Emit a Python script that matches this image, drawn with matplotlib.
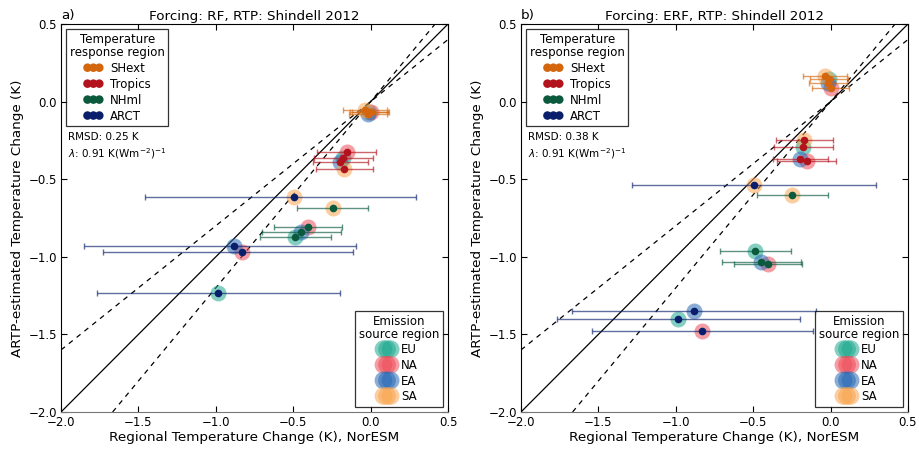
import numpy as np
import matplotlib
matplotlib.use('Agg')
import matplotlib.pyplot as plt

# ---------------- data ----------------
sources = ['EU', 'NA', 'EA', 'SA']
regions = ['SHext', 'Tropics', 'NHml', 'ARCT']

# NorESM regional temperature change (x), rows = regions, cols = sources
x_noresm = [[-0.010, 0.000, -0.015, -0.035],
            [-0.180, -0.154, -0.196, -0.170],
            [-0.488, -0.402, -0.448, -0.246],
            [-0.984, -0.829, -0.883, -0.497]]
# lower / upper ends of horizontal error bars (panel a: RF, panel b: ERF)
x_low_rf = [[-0.133, -0.120, -0.137, -0.176],
            [-0.366, -0.348, -0.370, -0.353],
            [-0.716, -0.623, -0.702, -0.473],
            [-1.770, -1.730, -1.850, -1.457]]
x_low_erf = [[-0.133, -0.120, -0.137, -0.176],
             [-0.366, -0.348, -0.370, -0.353],
             [-0.716, -0.623, -0.702, -0.473],
             [-1.770, -1.543, -1.672, -1.285]]
x_high = [[0.114, 0.121, 0.104, 0.104],
          [0.015, 0.037, -0.015, 0.015],
          [-0.258, -0.182, -0.192, -0.017],
          [-0.196, -0.116, -0.095, 0.295]]

# ARTP-estimated temperature change (y)
y_rf = [[-0.065, -0.070, -0.080, -0.055],
        [-0.366, -0.327, -0.391, -0.434],
        [-0.874, -0.806, -0.838, -0.688],
        [-1.231, -0.967, -0.928, -0.613]]
y_erf = [[0.144, 0.090, 0.122, 0.168],
         [-0.290, -0.381, -0.372, -0.247],
         [-0.963, -1.046, -1.031, -0.604],
         [-1.401, -1.480, -1.347, -0.537]]

titles = ['Forcing: RF, RTP: Shindell 2012', 'Forcing: ERF, RTP: Shindell 2012']
panel_labels = ['a)', 'b)']
rmsd = ['0.25', '0.38']
lam = ['0.91', '0.91']

region_colors = ['#d4670e', '#b3131c', '#0b5a3e', '#0a1f6c']
source_colors = ['#1fa98f', '#ee4d5a', '#2a6ab5', '#f9a550']

ticks = [-2.0, -1.5, -1.0, -0.5, 0.0, 0.5]

# ---------------- figure ----------------
fig = plt.figure(figsize=(9.19, 4.49), dpi=100)
ax_pos = [[0.0664, 0.0824, 0.4211, 0.8641],
          [0.5669, 0.0824, 0.4211, 0.8641]]

for p, (ydata, xlow) in enumerate([(y_rf, x_low_rf), (y_erf, x_low_erf)]):
    ax = fig.add_axes(ax_pos[p])
    ax.set_xlim(-2.0, 0.5)
    ax.set_ylim(-2.0, 0.5)

    # reference lines
    ax.axline((0, 0), slope=1.0, color='k', lw=0.9, zorder=1)
    ax.axline((0, 0), slope=0.8, color='k', lw=0.9, ls=(0, (4, 4)), zorder=1)
    ax.axline((0, 0), slope=1.2, color='k', lw=0.9, ls=(0, (4, 4)), zorder=1)

    for r in range(4):
        for s in range(4):
            ax.plot([x_noresm[r][s]], [ydata[r][s]], 'o', ms=11.5, mfc=source_colors[s],
                    mec='none', alpha=0.55, zorder=2)
    for r in range(4):
        for s in range(4):
            xv = x_noresm[r][s]
            yv = ydata[r][s]
            xerr = [[xv - xlow[r][s]], [x_high[r][s] - xv]]
            ax.errorbar([xv], [yv], xerr=xerr, fmt='none', ecolor=region_colors[r],
                        elinewidth=1.0, capsize=2.5, capthick=1.0, alpha=0.65, zorder=3)
    for r in range(4):
        for s in range(4):
            ax.plot([x_noresm[r][s]], [ydata[r][s]], 'o', ms=5.5,
                    mfc=region_colors[r], mec='none', zorder=4)

    ax.set_xticks(ticks)
    ax.set_yticks(ticks)
    ax.tick_params(direction='in', top=True, right=True, length=4, width=0.8,
                   labelsize=8.5, pad=3)
    ax.spines['bottom'].set_color('#777777')
    for sp in ['left', 'right', 'top']:
        ax.spines[sp].set_color('black')
    ax.set_xlabel('Regional Temperature Change (K), NorESM', fontsize=9.7, labelpad=1)
    ax.set_ylabel('ARTP-estimated Temperature Change (K)', fontsize=9.7, labelpad=3)
    ax.set_title(titles[p], fontsize=9.7, pad=3)
    ax.text(0.0, 1.006, panel_labels[p], transform=ax.transAxes, fontsize=9.7,
            ha='left', va='bottom')

    # legend 1: temperature response region
    h1 = [ax.scatter([], [], s=38, c=region_colors[r], edgecolors='none', label=regions[r])
          for r in range(4)]
    leg1 = ax.legend(handles=h1, title='Temperature\nresponse region', loc='upper left',
                     scatterpoints=3, fontsize=8.5, title_fontsize=8.5, frameon=True,
                     fancybox=False, edgecolor='black', handlelength=1.6,
                     handletextpad=0.6, borderaxespad=0.45, labelspacing=0.25,
                     borderpad=0.3, scatteryoffsets=[0.5])
    leg1.get_frame().set_linewidth(0.9)
    leg1.get_title().set_multialignment('center')
    leg1.get_title().set_linespacing(1.0)
    ax.add_artist(leg1)

    # legend 2: emission source region
    h2 = [ax.scatter([], [], s=165, c=source_colors[s], edgecolors='none', alpha=0.55,
                     label=sources[s]) for s in range(4)]
    leg2 = ax.legend(handles=h2, title='Emission\nsource region', loc='lower right',
                     scatterpoints=3, fontsize=8.5, title_fontsize=8.5, frameon=True,
                     fancybox=False, edgecolor='black', handlelength=1.2,
                     handletextpad=0.6, borderaxespad=0.45, labelspacing=0.22,
                     borderpad=0.3, scatteryoffsets=[0.5])
    leg2.get_frame().set_linewidth(0.9)
    leg2.get_title().set_multialignment('center')
    leg2.get_title().set_linespacing(1.0)

    ax.text(0.018, 0.70, 'RMSD: %s K' % rmsd[p], transform=ax.transAxes, fontsize=7.5)
    ax.text(0.018, 0.655, r'$\lambda$: %s K(Wm$^{-2}$)$^{-1}$' % lam[p],
            transform=ax.transAxes, fontsize=7.5)

fig.savefig('out.png', dpi=100)
